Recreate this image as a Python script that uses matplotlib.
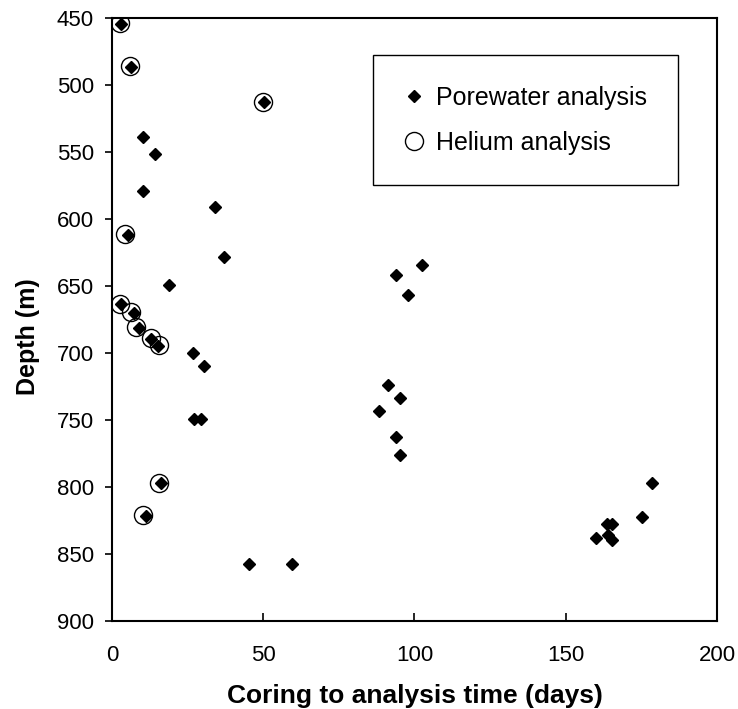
import matplotlib
matplotlib.use("Agg")
import matplotlib.pyplot as plt

plt.rcParams['font.family'] = ['Liberation Sans', 'DejaVu Sans']

# Porewater samples: coring-to-analysis time (days) and depth (m)
pore_days = [2.9, 6.2, 50.2, 10.1, 14.2, 10.2, 34.0, 5.2, 36.9, 18.9,
             2.9, 7.4, 9.0, 13.0, 15.2, 26.9, 30.3, 27.2, 29.3, 16.2,
             11.2, 45.4, 59.4, 102.4, 94.0, 97.9, 91.2, 95.1, 88.4, 94.0,
             95.1, 178.4, 175.1, 159.9, 165.2, 163.7, 164.1, 165.2]
pore_depth = [454.5, 486.3, 513.0, 539.0, 551.7, 578.9, 590.8, 611.7, 628.1, 649.3,
              663.7, 670.4, 681.1, 689.6, 694.6, 699.8, 709.5, 749.3, 749.3, 797.2,
              821.6, 857.7, 857.7, 634.1, 641.6, 656.7, 724.1, 733.4, 743.0, 762.7,
              776.3, 797.2, 822.2, 837.8, 827.8, 827.8, 836.0, 839.6]

# Helium samples
he_days = [2.8, 5.8, 49.9, 4.3, 2.5, 6.2, 8.0, 13.0, 15.5, 15.5, 10.4]
he_depth = [453.5, 486.0, 513.0, 611.5, 663.5, 669.5, 680.5, 688.5, 694.0, 797.0, 821.0]

x_ticks = [0, 50, 100, 150, 200]
y_ticks = [450, 500, 550, 600, 650, 700, 750, 800, 850, 900]

fig = plt.figure(figsize=(7.38, 7.09), dpi=100)
ax = fig.add_axes([112 / 738, 1 - 621 / 709, 605 / 738, 603 / 709])

ax.plot(pore_days, pore_depth, linestyle='none', marker='D', markersize=6.2,
        color='black', label='Porewater analysis')
ax.plot(he_days, he_depth, linestyle='none', marker='o', markersize=13,
        markerfacecolor='none', markeredgecolor='black', markeredgewidth=1.0,
        label='Helium analysis')

ax.set_xlim(0, 200)
ax.set_ylim(900, 450)
ax.set_xticks(x_ticks)
ax.set_yticks(y_ticks)
ax.tick_params(axis='x', direction='in', length=6, width=1.2, labelsize=16, pad=17)
ax.tick_params(axis='y', direction='out', length=5, width=1.2, labelsize=16, pad=8)
for s in ax.spines.values():
    s.set_linewidth(1.5)

ax.set_xlabel('Coring to analysis time (days)', fontsize=19, fontweight='bold', labelpad=13)
ax.set_ylabel('Depth (m)', fontsize=18, fontweight='bold')
ax.yaxis.set_label_coords(-0.119, 0.471)

leg = ax.legend(loc='upper right', bbox_to_anchor=(0.9355, 0.9386), fontsize=18,
                frameon=True, fancybox=False, edgecolor='black', framealpha=1,
                handlelength=0.8, handletextpad=0.5, borderpad=1.22, labelspacing=0.85,
                borderaxespad=0)
leg.get_frame().set_linewidth(1.0)

fig.savefig('out.png', dpi=100)
